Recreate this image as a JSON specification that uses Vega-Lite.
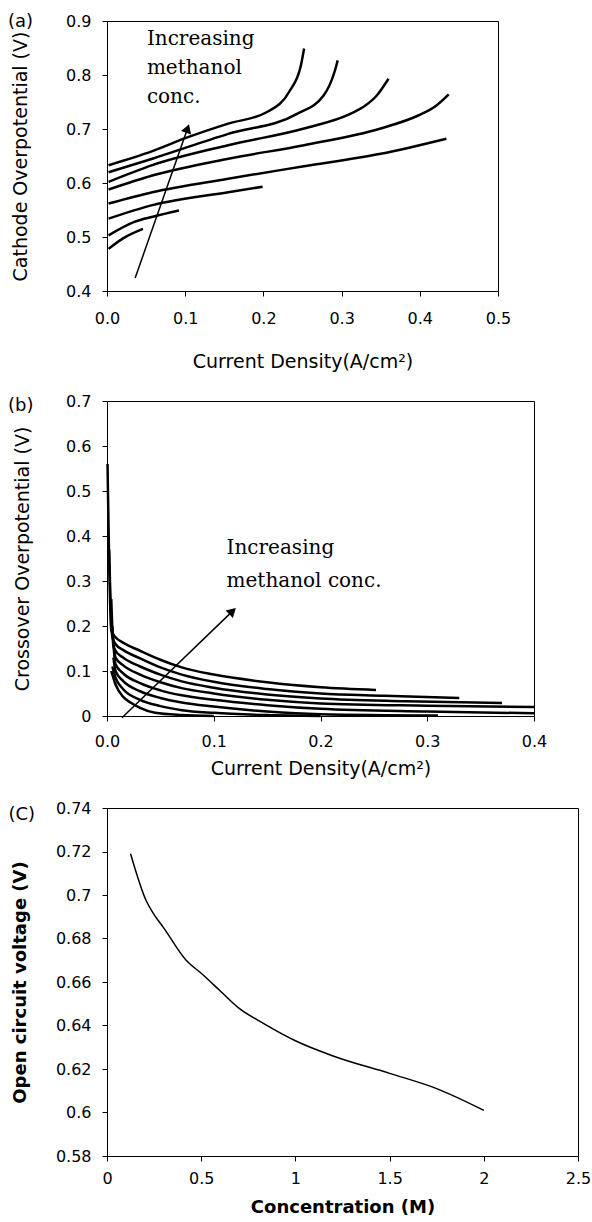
{
  "$schema": "https://vega.github.io/schema/vega-lite/v6.json",
  "background": "white",
  "padding": {"left": 7, "top": 12, "right": 5, "bottom": 3},
  "spacing": 20,
  "config": {
    "view": {"stroke": "#000", "strokeWidth": 1},
    "font": "DejaVu Sans",
    "axis": {"domainColor": "#000", "domainWidth": 1, "tickColor": "#000", "tickSize": 5, "labelColor": "#000", "titleColor": "#000", "labelFont": "DejaVu Sans", "titleFont": "DejaVu Sans", "labelFontSize": 16, "titleFontSize": 19, "titleFontWeight": "normal", "grid": false, "labelFlush": false, "labelOverlap": false},
    "axisX": {"labelPadding": 12},
    "axisY": {"labelPadding": 11}
  },
  "datasets": {
    "cathode": [
      {"curve": 1, "j": 0.002, "v": 0.478}, {"curve": 1, "j": 0.02, "v": 0.497}, {"curve": 1, "j": 0.046, "v": 0.515},
      {"curve": 2, "j": 0.002, "v": 0.503}, {"curve": 2, "j": 0.035, "v": 0.528}, {"curve": 2, "j": 0.06, "v": 0.538}, {"curve": 2, "j": 0.092, "v": 0.549},
      {"curve": 3, "j": 0.002, "v": 0.534}, {"curve": 3, "j": 0.058, "v": 0.559}, {"curve": 3, "j": 0.155, "v": 0.583}, {"curve": 3, "j": 0.199, "v": 0.593},
      {"curve": 4, "j": 0.002, "v": 0.562}, {"curve": 4, "j": 0.058, "v": 0.583}, {"curve": 4, "j": 0.155, "v": 0.608}, {"curve": 4, "j": 0.252, "v": 0.631}, {"curve": 4, "j": 0.35, "v": 0.654}, {"curve": 4, "j": 0.434, "v": 0.682},
      {"curve": 5, "j": 0.002, "v": 0.588}, {"curve": 5, "j": 0.058, "v": 0.614}, {"curve": 5, "j": 0.155, "v": 0.645}, {"curve": 5, "j": 0.252, "v": 0.67}, {"curve": 5, "j": 0.35, "v": 0.701}, {"curve": 5, "j": 0.398, "v": 0.725}, {"curve": 5, "j": 0.42, "v": 0.742}, {"curve": 5, "j": 0.437, "v": 0.764},
      {"curve": 6, "j": 0.002, "v": 0.602}, {"curve": 6, "j": 0.058, "v": 0.633}, {"curve": 6, "j": 0.155, "v": 0.67}, {"curve": 6, "j": 0.252, "v": 0.701}, {"curve": 6, "j": 0.311, "v": 0.728}, {"curve": 6, "j": 0.33, "v": 0.743}, {"curve": 6, "j": 0.345, "v": 0.762}, {"curve": 6, "j": 0.36, "v": 0.793},
      {"curve": 7, "j": 0.002, "v": 0.62}, {"curve": 7, "j": 0.058, "v": 0.645}, {"curve": 7, "j": 0.155, "v": 0.691}, {"curve": 7, "j": 0.243, "v": 0.728}, {"curve": 7, "j": 0.277, "v": 0.762}, {"curve": 7, "j": 0.291, "v": 0.806}, {"curve": 7, "j": 0.295, "v": 0.827},
      {"curve": 8, "j": 0.002, "v": 0.633}, {"curve": 8, "j": 0.058, "v": 0.659}, {"curve": 8, "j": 0.1, "v": 0.683}, {"curve": 8, "j": 0.155, "v": 0.71}, {"curve": 8, "j": 0.204, "v": 0.731}, {"curve": 8, "j": 0.233, "v": 0.769}, {"curve": 8, "j": 0.248, "v": 0.818}, {"curve": 8, "j": 0.252, "v": 0.849}
    ],
    "crossover": [
      {"curve": 8, "j": 0.0005, "v": 0.56}, {"curve": 8, "j": 0.004, "v": 0.19}, {"curve": 8, "j": 0.008, "v": 0.175}, {"curve": 8, "j": 0.015, "v": 0.163}, {"curve": 8, "j": 0.031, "v": 0.145}, {"curve": 8, "j": 0.05, "v": 0.125}, {"curve": 8, "j": 0.07, "v": 0.108}, {"curve": 8, "j": 0.1, "v": 0.092}, {"curve": 8, "j": 0.15, "v": 0.075}, {"curve": 8, "j": 0.2, "v": 0.064}, {"curve": 8, "j": 0.252, "v": 0.058},
      {"curve": 7, "j": 0.002, "v": 0.37}, {"curve": 7, "j": 0.005, "v": 0.175}, {"curve": 7, "j": 0.008, "v": 0.16}, {"curve": 7, "j": 0.015, "v": 0.147}, {"curve": 7, "j": 0.031, "v": 0.128}, {"curve": 7, "j": 0.05, "v": 0.108}, {"curve": 7, "j": 0.07, "v": 0.092}, {"curve": 7, "j": 0.1, "v": 0.076}, {"curve": 7, "j": 0.15, "v": 0.06}, {"curve": 7, "j": 0.2, "v": 0.05}, {"curve": 7, "j": 0.26, "v": 0.045}, {"curve": 7, "j": 0.33, "v": 0.04},
      {"curve": 6, "j": 0.004, "v": 0.26}, {"curve": 6, "j": 0.006, "v": 0.155}, {"curve": 6, "j": 0.008, "v": 0.145}, {"curve": 6, "j": 0.015, "v": 0.13}, {"curve": 6, "j": 0.031, "v": 0.11}, {"curve": 6, "j": 0.05, "v": 0.092}, {"curve": 6, "j": 0.07, "v": 0.077}, {"curve": 6, "j": 0.1, "v": 0.063}, {"curve": 6, "j": 0.15, "v": 0.048}, {"curve": 6, "j": 0.2, "v": 0.039}, {"curve": 6, "j": 0.28, "v": 0.033}, {"curve": 6, "j": 0.37, "v": 0.029},
      {"curve": 5, "j": 0.005, "v": 0.2}, {"curve": 5, "j": 0.008, "v": 0.13}, {"curve": 5, "j": 0.015, "v": 0.113}, {"curve": 5, "j": 0.031, "v": 0.092}, {"curve": 5, "j": 0.05, "v": 0.075}, {"curve": 5, "j": 0.07, "v": 0.062}, {"curve": 5, "j": 0.1, "v": 0.05}, {"curve": 5, "j": 0.15, "v": 0.036}, {"curve": 5, "j": 0.2, "v": 0.028}, {"curve": 5, "j": 0.3, "v": 0.023}, {"curve": 5, "j": 0.4, "v": 0.02},
      {"curve": 4, "j": 0.006, "v": 0.16}, {"curve": 4, "j": 0.008, "v": 0.115}, {"curve": 4, "j": 0.015, "v": 0.095}, {"curve": 4, "j": 0.031, "v": 0.073}, {"curve": 4, "j": 0.05, "v": 0.057}, {"curve": 4, "j": 0.07, "v": 0.046}, {"curve": 4, "j": 0.1, "v": 0.036}, {"curve": 4, "j": 0.15, "v": 0.024}, {"curve": 4, "j": 0.2, "v": 0.016}, {"curve": 4, "j": 0.3, "v": 0.01}, {"curve": 4, "j": 0.4, "v": 0.006},
      {"curve": 3, "j": 0.006, "v": 0.13}, {"curve": 3, "j": 0.008, "v": 0.1}, {"curve": 3, "j": 0.015, "v": 0.078}, {"curve": 3, "j": 0.031, "v": 0.055}, {"curve": 3, "j": 0.05, "v": 0.04}, {"curve": 3, "j": 0.07, "v": 0.03}, {"curve": 3, "j": 0.1, "v": 0.021}, {"curve": 3, "j": 0.15, "v": 0.01}, {"curve": 3, "j": 0.2, "v": 0.004}, {"curve": 3, "j": 0.31, "v": 0.001},
      {"curve": 2, "j": 0.005, "v": 0.11}, {"curve": 2, "j": 0.008, "v": 0.085}, {"curve": 2, "j": 0.015, "v": 0.06}, {"curve": 2, "j": 0.031, "v": 0.036}, {"curve": 2, "j": 0.05, "v": 0.022}, {"curve": 2, "j": 0.07, "v": 0.013}, {"curve": 2, "j": 0.1, "v": 0.007}, {"curve": 2, "j": 0.15, "v": 0.002}, {"curve": 2, "j": 0.2, "v": 0.0},
      {"curve": 1, "j": 0.004, "v": 0.1}, {"curve": 1, "j": 0.008, "v": 0.07}, {"curve": 1, "j": 0.015, "v": 0.043}, {"curve": 1, "j": 0.022, "v": 0.03}, {"curve": 1, "j": 0.031, "v": 0.018}, {"curve": 1, "j": 0.045, "v": 0.007}, {"curve": 1, "j": 0.07, "v": 0.002}, {"curve": 1, "j": 0.1, "v": 0.0}
    ],
    "ocv": [
      {"conc": 0.125, "ocv": 0.719}, {"conc": 0.21, "ocv": 0.697}, {"conc": 0.25, "ocv": 0.691}, {"conc": 0.3, "ocv": 0.685},
      {"conc": 0.42, "ocv": 0.67}, {"conc": 0.5, "ocv": 0.664}, {"conc": 0.6, "ocv": 0.656}, {"conc": 0.7, "ocv": 0.648},
      {"conc": 0.83, "ocv": 0.641}, {"conc": 1.0, "ocv": 0.633}, {"conc": 1.2, "ocv": 0.626}, {"conc": 1.5, "ocv": 0.618},
      {"conc": 1.75, "ocv": 0.611}, {"conc": 2.0, "ocv": 0.601}
    ],
    "arrowA": [{"x": 0.036, "y": 0.424, "x2": 0.103, "y2": 0.701}],
    "arrowB": [{"x": 0.014, "y": -0.004, "x2": 0.1176, "y2": 0.233}],
    "noteA": [{"x": 0.051, "y": 0.855, "text": "Increasing\nmethanol\nconc."}],
    "noteB": [{"x": 0.112, "y": 0.359, "text": "Increasing\nmethanol conc."}],
    "tagA": [{"x": -0.1266, "y": 0.898, "text": "(a)"}],
    "tagB": [{"x": -0.0927, "y": 0.689, "text": "(b)"}],
    "tagC": [{"x": -0.523, "y": 0.7368, "text": "(C)"}]
  },
  "vconcat": [
    {
      "width": 391, "height": 270,
      "layer": [
        {
          "data": {"name": "cathode"},
          "mark": {"type": "line", "color": "#000", "strokeWidth": 2.5, "interpolate": "monotone"},
          "encoding": {
            "x": {"field": "j", "type": "quantitative", "scale": {"domain": [0, 0.5], "nice": false}, "axis": {"title": "Current Density(A/cm²)", "values": [0, 0.1, 0.2, 0.3, 0.4, 0.5], "format": ".1f", "labelPadding": 14, "titlePadding": 26}},
            "y": {"field": "v", "type": "quantitative", "scale": {"domain": [0.4, 0.9], "nice": false, "zero": false}, "axis": {"title": "Cathode Overpotential (V)", "values": [0.4, 0.5, 0.6, 0.7, 0.8, 0.9], "format": ".1f", "titlePadding": 35}},
            "detail": {"field": "curve", "type": "nominal"}
          }
        },
        {
          "data": {"name": "arrowA"},
          "mark": {"type": "rule", "color": "#000", "strokeWidth": 1.5},
          "encoding": {"x": {"field": "x", "type": "quantitative"}, "y": {"field": "y", "type": "quantitative"}, "x2": {"field": "x2"}, "y2": {"field": "y2"}}
        },
        {
          "data": {"name": "arrowA"},
          "mark": {"type": "point", "shape": "triangle-up", "filled": true, "color": "#000", "opacity": 1, "size": 110, "angle": 19},
          "encoding": {"x": {"field": "x2", "type": "quantitative"}, "y": {"field": "y2", "type": "quantitative"}}
        },
        {
          "data": {"name": "noteA"},
          "mark": {"type": "text", "font": "DejaVu Serif", "fontSize": 20, "align": "left", "baseline": "alphabetic", "lineBreak": "\n", "lineHeight": 29, "color": "#000"},
          "encoding": {"x": {"field": "x", "type": "quantitative"}, "y": {"field": "y", "type": "quantitative"}, "text": {"field": "text"}}
        },
        {
          "data": {"name": "tagA"},
          "mark": {"type": "text", "font": "DejaVu Sans", "fontSize": 18, "align": "left", "baseline": "middle", "color": "#000"},
          "encoding": {"x": {"field": "x", "type": "quantitative"}, "y": {"field": "y", "type": "quantitative"}, "text": {"field": "text"}}
        }
      ]
    },
    {
      "width": 427, "height": 315,
      "layer": [
        {
          "data": {"name": "crossover"},
          "mark": {"type": "line", "color": "#000", "strokeWidth": 2.5, "interpolate": "monotone"},
          "encoding": {
            "x": {"field": "j", "type": "quantitative", "scale": {"domain": [0, 0.4], "nice": false}, "axis": {"title": "Current Density(A/cm²)", "values": [0, 0.1, 0.2, 0.3, 0.4], "format": ".1f", "labelPadding": 12, "titlePadding": 10}},
            "y": {"field": "v", "type": "quantitative", "scale": {"domain": [0, 0.7], "nice": false}, "axis": {"title": "Crossover Overpotential (V)", "values": [0, 0.1, 0.2, 0.3, 0.4, 0.5, 0.6, 0.7], "format": ".1~f", "titlePadding": 33}},
            "detail": {"field": "curve", "type": "nominal"}
          }
        },
        {
          "data": {"name": "arrowB"},
          "mark": {"type": "rule", "color": "#000", "strokeWidth": 1.5},
          "encoding": {"x": {"field": "x", "type": "quantitative"}, "y": {"field": "y", "type": "quantitative"}, "x2": {"field": "x2"}, "y2": {"field": "y2"}}
        },
        {
          "data": {"name": "arrowB"},
          "mark": {"type": "point", "shape": "triangle-up", "filled": true, "color": "#000", "opacity": 1, "size": 110, "angle": 46},
          "encoding": {"x": {"field": "x2", "type": "quantitative"}, "y": {"field": "y2", "type": "quantitative"}}
        },
        {
          "data": {"name": "noteB"},
          "mark": {"type": "text", "font": "DejaVu Serif", "fontSize": 20, "align": "left", "baseline": "alphabetic", "lineBreak": "\n", "lineHeight": 33, "color": "#000"},
          "encoding": {"x": {"field": "x", "type": "quantitative"}, "y": {"field": "y", "type": "quantitative"}, "text": {"field": "text"}}
        },
        {
          "data": {"name": "tagB"},
          "mark": {"type": "text", "font": "DejaVu Sans", "fontSize": 18, "align": "left", "baseline": "middle", "color": "#000"},
          "encoding": {"x": {"field": "x", "type": "quantitative"}, "y": {"field": "y", "type": "quantitative"}, "text": {"field": "text"}}
        }
      ]
    },
    {
      "width": 471, "height": 348,
      "layer": [
        {
          "data": {"name": "ocv"},
          "mark": {"type": "line", "color": "#000", "strokeWidth": 1.5, "interpolate": "monotone"},
          "encoding": {
            "x": {"field": "conc", "type": "quantitative", "scale": {"domain": [0, 2.5], "nice": false}, "axis": {"title": "Concentration (M)", "titleFontWeight": "bold", "titleFontSize": 18, "values": [0, 0.5, 1, 1.5, 2, 2.5], "format": ".1~f", "labelPadding": 9, "titlePadding": 12}},
            "y": {"field": "ocv", "type": "quantitative", "scale": {"domain": [0.58, 0.74], "nice": false, "zero": false}, "axis": {"title": "Open circuit voltage (V)", "titleFontWeight": "bold", "titleFontSize": 18, "values": [0.58, 0.6, 0.62, 0.64, 0.66, 0.68, 0.7, 0.72, 0.74], "format": ".2~f", "titlePadding": 26}}
          }
        },
        {
          "data": {"name": "tagC"},
          "mark": {"type": "text", "font": "DejaVu Sans", "fontSize": 18, "align": "left", "baseline": "middle", "color": "#000"},
          "encoding": {"x": {"field": "x", "type": "quantitative"}, "y": {"field": "y", "type": "quantitative"}, "text": {"field": "text"}}
        }
      ]
    }
  ]
}
